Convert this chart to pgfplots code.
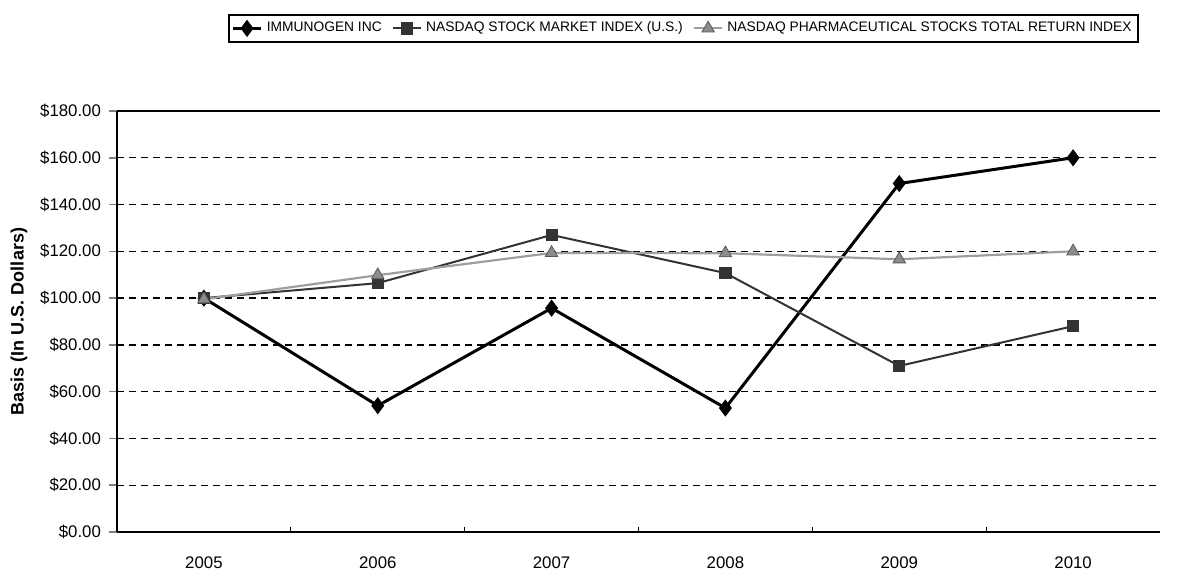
\documentclass[border=0pt]{standalone}
\usepackage{pgfplots}
\pgfplotsset{compat=1.18}
\usepackage{fontspec}
\setmainfont{Liberation Sans}

\definecolor{nasdaq}{gray}{0.2}
\definecolor{pharmline}{gray}{0.62}
\definecolor{pharmfill}{gray}{0.55}

\begin{document}
\begin{tikzpicture}
  \begin{axis}[name=ax,
        scale only axis,
        width=521.5pt,
        height=210.5pt,
        axis lines=left,
        axis line style={-, line width=1pt},
        xmin=-0.5, xmax=5.5,
        ymin=0, ymax=180,
        xtick={0,1,2,3,4,5},
        xticklabels={2005,2006,2007,2008,2009,2010},
        xtick style={draw=none},
        extra x ticks={0.5,1.5,2.5,3.5,4.5},
        extra x tick labels={},
        extra x tick style={xtick style={draw=black, line width=0.6pt}, tick align=inside, major tick length=2.5pt},
        ytick={0,20,...,180},
        yticklabels={\$0.00,\$20.00,\$40.00,\$60.00,\$80.00,\$100.00,\$120.00,\$140.00,\$160.00,\$180.00},
        ytick style={line width=0.8pt},
        tick align=outside,
        major tick length=4pt,
        ymajorgrids,
        major grid style={black, line width=0.7pt, dash pattern=on 3.5pt off 2.5pt},
        tick label style={font=\fontsize{8.4}{9}\selectfont},
        yticklabel style={xshift=-0.5pt},
        xticklabel style={yshift=-5pt},
        ylabel={\textbf{Basis (In U.S. Dollars)}},
        ylabel style={font=\fontsize{9}{10}\selectfont, at={(axis description cs:-0.094,0.5)}, anchor=center},
        legend columns=3,
        legend style={at={(0.5431,1.2304)}, anchor=north, draw=black, line width=0.9pt,
                      font=\fontsize{6.9}{7.5}\selectfont, inner xsep=1pt, inner ysep=1.5pt,
                      /tikz/every even column/.append style={column sep=3pt}},
        legend image code/.code={\draw[mark repeat=2, mark phase=2, #1] plot coordinates {(0cm,0cm) (0.25cm,0cm) (0.5cm,0cm)};},
        clip=false
        ]
    \addplot [black, line width=1.5pt, mark=diamond*, mark size=3.9pt, mark options={solid, line width=0.5pt}]
      coordinates {(0,100) (1,54) (2,95.7) (3,53) (4,149) (5,160)};
    \addlegendentry{IMMUNOGEN INC}

    \addplot [nasdaq, line width=1pt, mark=square*, mark size=2.8pt, mark options={solid, fill=nasdaq, line width=0.4pt}]
      coordinates {(0,100) (1,106.4) (2,127) (3,110.7) (4,71) (5,88)};
    \addlegendentry{NASDAQ STOCK MARKET INDEX (U.S.)}

    \addplot [pharmline, line width=1.1pt, mark=triangle*, mark size=3.6pt, mark options={solid, fill=pharmfill, draw=gray!70!black, line width=0.4pt}]
      coordinates {(0,99.5) (1,109.8) (2,119.3) (3,119.2) (4,116.6) (5,120)};
    \addlegendentry{NASDAQ PHARMACEUTICAL STOCKS TOTAL RETURN INDEX}

    \draw[black, line width=1pt] (axis cs:-0.5,180) -- (axis cs:5.5,180);
  \end{axis}
  \pgfresetboundingbox
  \path[use as bounding box] ([xshift=-58.5pt,yshift=-19.5pt]ax.south west) rectangle ([xshift=8.5pt,yshift=55.5pt]ax.north east);
\end{tikzpicture}
\end{document}
